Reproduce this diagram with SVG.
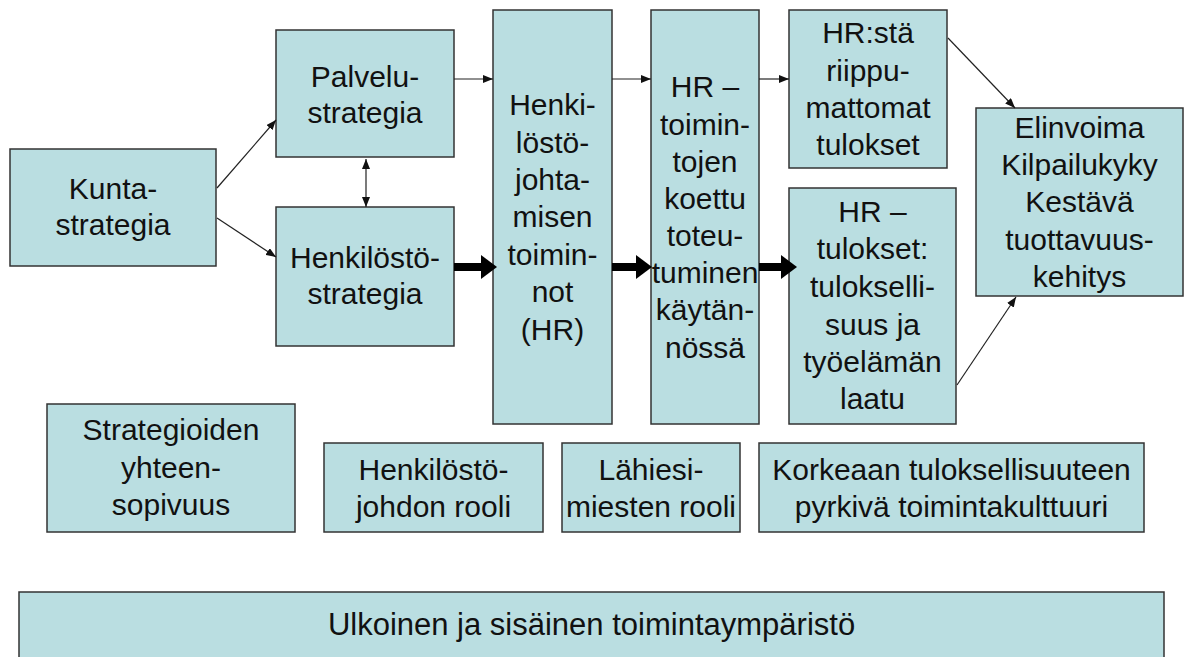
<svg xmlns="http://www.w3.org/2000/svg" width="1185" height="657" viewBox="0 0 1185 657">
<style>
.box{fill:#BADEE1;stroke:#333;stroke-width:1.5}
.t{font-family:"Liberation Sans",Arial,sans-serif;font-size:30px;fill:#111;text-anchor:middle}
.thin{stroke:#222;stroke-width:1.2;fill:none}
.thick{stroke:#000;stroke-width:8;fill:none}
</style>
<defs>
<marker id="ah" markerUnits="userSpaceOnUse" markerWidth="10" markerHeight="8" refX="10" refY="4" orient="auto-start-reverse">
<path d="M0,0 L10,4 L0,8 z" fill="#111"/>
</marker>
<marker id="bh" markerUnits="userSpaceOnUse" markerWidth="16" markerHeight="24" refX="3" refY="12" orient="auto">
<path d="M0,0 L16,12 L0,24 z" fill="#000"/>
</marker>
</defs>
<rect width="1185" height="657" fill="#fff"/>
<g id="n-kunta"><rect class="box" x="10" y="149" width="206" height="117"/>
<text class="t"><tspan x="113" y="199">Kunta-</tspan><tspan x="113" y="235">strategia</tspan></text></g>
<g id="n-palvelu"><rect class="box" x="276" y="30" width="178" height="127"/>
<text class="t"><tspan x="365" y="87">Palvelu-</tspan><tspan x="365" y="123">strategia</tspan></text></g>
<g id="n-henkstrat"><rect class="box" x="276" y="207" width="178" height="139"/>
<text class="t"><tspan x="365" y="268">Henkilöstö-</tspan><tspan x="365" y="304">strategia</tspan></text></g>
<g id="n-hr"><rect class="box" x="493" y="10" width="119" height="414"/>
<text class="t"><tspan x="552.5" y="115">Henki-</tspan><tspan x="552.5" y="153">löstö-</tspan><tspan x="552.5" y="190">johta-</tspan><tspan x="552.5" y="227">misen</tspan><tspan x="552.5" y="265">toimin-</tspan><tspan x="552.5" y="302">not</tspan><tspan x="552.5" y="340">(HR)</tspan></text></g>
<g id="n-hrtoim"><rect class="box" x="651" y="10" width="108" height="414"/>
<text class="t"><tspan x="705" y="97">HR –</tspan><tspan x="705" y="135">toimin-</tspan><tspan x="705" y="172">tojen</tspan><tspan x="705" y="209">koettu</tspan><tspan x="705" y="246">toteu-</tspan><tspan x="705" y="283">tuminen</tspan><tspan x="705" y="320">käytän-</tspan><tspan x="705" y="358">nössä</tspan></text></g>
<g id="n-hrsta"><rect class="box" x="789" y="10" width="158" height="158"/>
<text class="t"><tspan x="868" y="43">HR:stä</tspan><tspan x="868" y="81">riippu-</tspan><tspan x="868" y="118">mattomat</tspan><tspan x="868" y="155">tulokset</tspan></text></g>
<g id="n-hrtul"><rect class="box" x="789" y="188" width="167" height="236"/>
<text class="t"><tspan x="872.5" y="222">HR –</tspan><tspan x="872.5" y="259">tulokset:</tspan><tspan x="872.5" y="297">tulokselli-</tspan><tspan x="872.5" y="335">suus ja</tspan><tspan x="872.5" y="372">työelämän</tspan><tspan x="872.5" y="409">laatu</tspan></text></g>
<g id="n-elinvoima"><rect class="box" x="976" y="108" width="207" height="188"/>
<text class="t"><tspan x="1079.5" y="138">Elinvoima</tspan><tspan x="1079.5" y="175">Kilpailukyky</tspan><tspan x="1079.5" y="212">Kestävä</tspan><tspan x="1079.5" y="250">tuottavuus-</tspan><tspan x="1079.5" y="287">kehitys</tspan></text></g>
<g id="n-strategioiden"><rect class="box" x="47" y="404" width="248" height="128"/>
<text class="t"><tspan x="171" y="440">Strategioiden</tspan><tspan x="171" y="478">yhteen-</tspan><tspan x="171" y="515">sopivuus</tspan></text></g>
<g id="n-johto"><rect class="box" x="324" y="443" width="219" height="89"/>
<text class="t"><tspan x="433.5" y="480">Henkilöstö-</tspan><tspan x="433.5" y="517">johdon rooli</tspan></text></g>
<g id="n-lahiesi"><rect class="box" x="562" y="443" width="178" height="89"/>
<text class="t"><tspan x="651" y="480">Lähiesi-</tspan><tspan x="651" y="517">miesten rooli</tspan></text></g>
<g id="n-kulttuuri"><rect class="box" x="759" y="443" width="385" height="89"/>
<text class="t"><tspan x="951.5" y="480">Korkeaan tuloksellisuuteen</tspan><tspan x="951.5" y="517">pyrkivä toimintakulttuuri</tspan></text></g>
<g id="n-ymparisto"><rect class="box" x="19" y="592" width="1145" height="80"/>
<text class="t" x="591.5" y="635" style="font-size:31px">Ulkoinen ja sisäinen toimintaympäristö</text></g>
<g id="connectors">
<line class="thin" x1="217" y1="188" x2="276" y2="120" marker-end="url(#ah)"/>
<line class="thin" x1="217" y1="218" x2="276" y2="257" marker-end="url(#ah)"/>
<line class="thin" x1="366" y1="159" x2="366" y2="207" marker-start="url(#ah)" marker-end="url(#ah)"/>
<line class="thin" x1="454" y1="79" x2="493" y2="79" marker-end="url(#ah)"/>
<line class="thin" x1="612" y1="79" x2="651" y2="79" marker-end="url(#ah)"/>
<line class="thin" x1="759" y1="79" x2="789" y2="79" marker-end="url(#ah)"/>
<line class="thin" x1="948" y1="38" x2="1015" y2="108" marker-end="url(#ah)"/>
<line class="thin" x1="957" y1="385" x2="1016" y2="297" marker-end="url(#ah)"/>
<line class="thick" x1="454" y1="267" x2="484" y2="267" marker-end="url(#bh)"/>
<line class="thick" x1="612" y1="267" x2="639" y2="267" marker-end="url(#bh)"/>
<line class="thick" x1="759" y1="267" x2="784" y2="267" marker-end="url(#bh)"/>
</g>
</svg>
